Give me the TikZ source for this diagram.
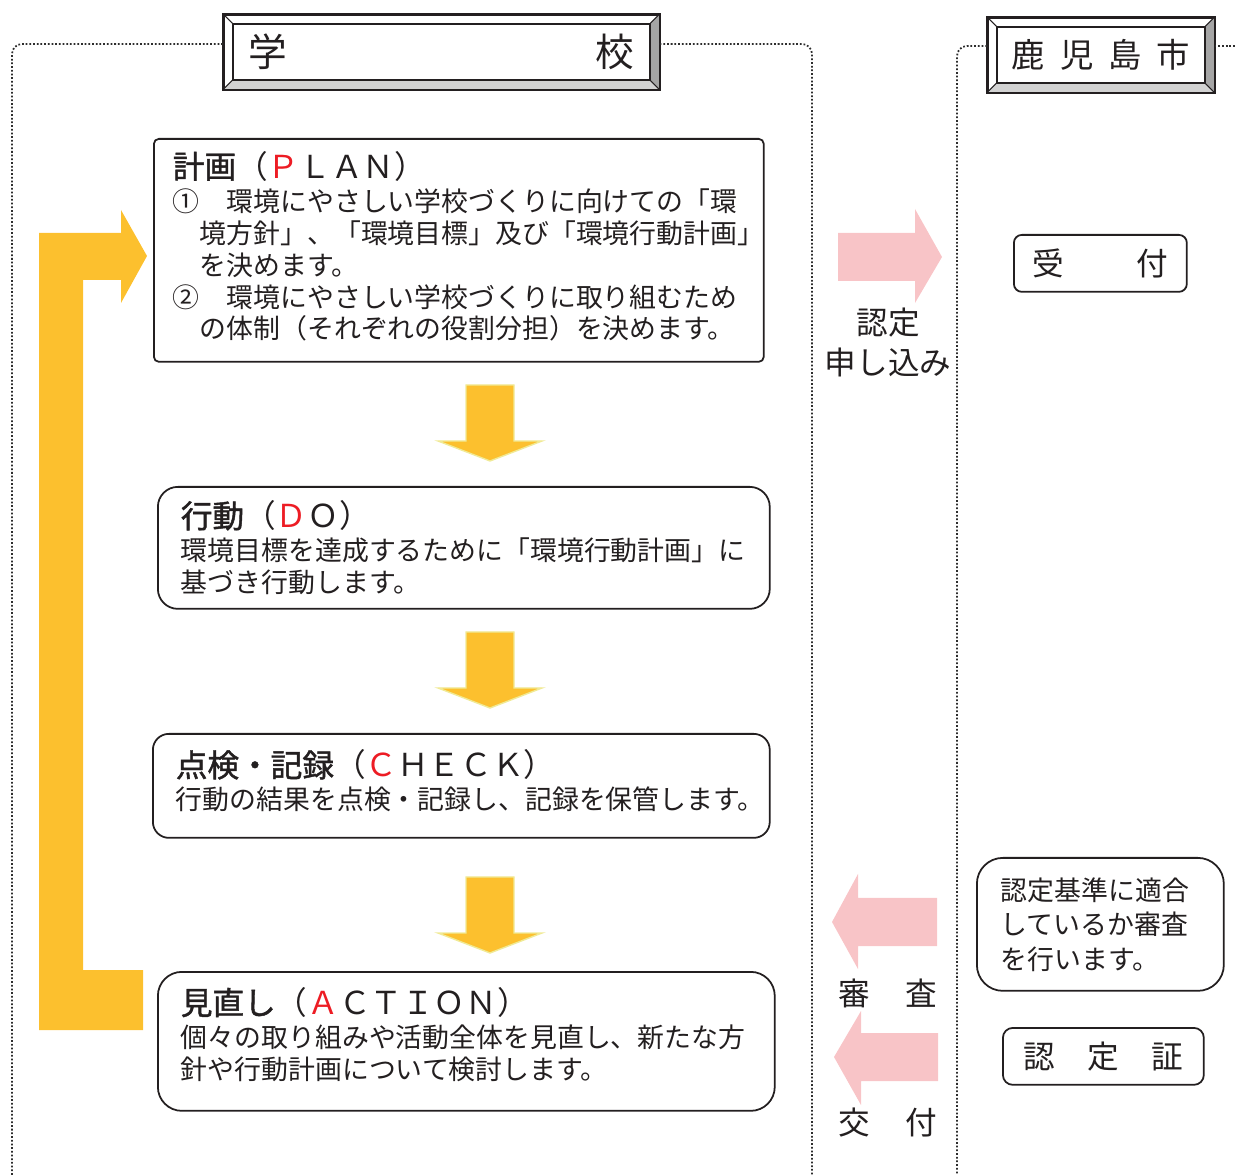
\documentclass[tikz,border=0pt]{standalone}
\usepackage{fontspec}
\setmainfont{Noto Sans CJK JP}
\newfontfamily\semibold[FakeBold=1.4]{Noto Sans CJK JP}
\usetikzlibrary{positioning,calc}
\definecolor{inkgray}{RGB}{35,31,32}
\definecolor{arrowyellow}{RGB}{252,192,46}
\definecolor{arrowedge}{RGB}{240,234,150}
\definecolor{arrowpink}{RGB}{248,196,199}
\definecolor{letterred}{RGB}{237,28,36}
\definecolor{bevdark}{RGB}{165,165,165}
\definecolor{bevlight}{RGB}{210,210,210}
\definecolor{framegray}{RGB}{45,45,45}
\newcommand{\bodysize}{\fontsize{15.3pt}{18.2pt}\selectfont}
\newcommand{\titlesize}{\fontsize{18pt}{22.8pt}\selectfont}
\newcommand{\lift}[1]{\rule[-#1]{0pt}{0pt}}
\tikzset{
  card/.style   = {rectangle, draw = inkgray, line width = 1pt, fill = white,
                   anchor = north west, align = left, text = inkgray,
                   inner ysep = 0pt, font = \bodysize},
  header/.style = {rectangle, draw = inkgray, line width = 1pt, fill = white,
                   anchor = north west, minimum height = 1.48cm, text = inkgray,
                   inner sep = 0pt},
  sidelabel/.style = {align = center, text = inkgray, inner sep = 0pt,
                   font = \titlesize},
  yarrow/.style = {fill = arrowyellow, draw = arrowedge, line width = 0.8pt},
  parrow/.style = {fill = arrowpink},
  frame/.style  = {draw = framegray, line width = 1pt,
                   dash pattern = on 1pt off 1.1pt, rounded corners = 0.2cm}
}

\begin{document}
\begin{tikzpicture}[x=0.02cm, y=-0.02cm]   % 1 unit = 1 pixel of the layout
  \useasboundingbox (0,0) rectangle (1235,1175);

  % headers
  \node[header, minimum width = 8.7cm, font = \fontsize{22pt}{26pt}\selectfont]
    (school) at (223,14) {\makebox[7.72cm][s]{学\hfill 校}};
  \node[header, minimum width = 4.52cm, font = \fontsize{19pt}{23pt}\selectfont]
    (city) at (987,17) {\makebox[3.56cm][s]{鹿\hfill 児\hfill 島\hfill 市}};

  \foreach \nm in {school,city} {
    \fill[bevdark] (\nm.north east) -- (\nm.south east)
      -- ($(\nm.south east)+(-10,-10)$) -- ($(\nm.north east)+(-10,10)$) -- cycle;
    \fill[bevlight] (\nm.south west) -- (\nm.south east)
      -- ($(\nm.south east)+(-10,-10)$) -- ($(\nm.south west)+(10,-10)$) -- cycle;
    \draw[inkgray, line width = 1pt] (\nm.north west) rectangle (\nm.south east);
    \draw[inkgray, line width = 1pt] ($(\nm.north west)+(10,10)$) rectangle ($(\nm.south east)+(-10,-10)$);
    \draw[inkgray, line width = 0.6pt]
      (\nm.north west) -- ($(\nm.north west)+(10,10)$)
      (\nm.north east) -- ($(\nm.north east)+(-10,10)$)
      (\nm.south east) -- ($(\nm.south east)+(-10,-10)$)
      (\nm.south west) -- ($(\nm.south west)+(10,-10)$);
  }

  % dotted frames
  \draw[frame] (school.west |- 0,44) -- (12,44) -- (12,1175);
  \draw[frame] (school.east |- 0,44) -- (812,44) -- (812,1175);
  \draw[frame] (city.west |- 0,46) -- (957,46) -- (957,1175);
  \draw[frame] (city.east |- 0,46) -- (1235,46);

  % PDCA boxes
  \node[card, rounded corners = 0.1cm, minimum width = 12.2cm, minimum height = 4.46cm,
        inner xsep = 0.38cm, text width = 11.44cm] (plan) at (153,138)
    {{\titlesize{\semibold 計画}（\textcolor{letterred}{Ｐ}ＬＡＮ）}\\[0.5pt]
     ①　環境にやさしい学校づくりに向けての「環\\
     \hspace*{1em}境方針」、「環境目標」及び「環境行動計画」\\
     \hspace*{1em}を決めます。\\
     ②　環境にやさしい学校づくりに取り組むため\\
     \hspace*{1em}の体制（それぞれの役割分担）を決めます。\lift{6pt}};
  \node[card, rounded corners = 0.4cm, minimum width = 12.24cm, minimum height = 2.44cm,
        inner xsep = 0.46cm, text width = 11.32cm] (do) at (157,486)
    {{\titlesize{\semibold 行動}（\textcolor{letterred}{Ｄ}Ｏ）}\\[0.5pt]
     環境目標を達成するために「環境行動計画」に\\
     基づき行動します。};
  \node[card, rounded corners = 0.32cm, minimum width = 12.34cm, minimum height = 2.08cm,
        inner xsep = 0.46cm, text width = 11.42cm] (check) at (152,733)
    {{\titlesize{\semibold 点検・記録}（\textcolor{letterred}{Ｃ}ＨＥＣＫ）}\\[0.5pt]
     行動の結果を点検・記録し、記録を保管します。\lift{7pt}};
  \node[card, rounded corners = 0.48cm, minimum width = 12.34cm, minimum height = 2.78cm,
        inner xsep = 0.46cm, text width = 11.42cm] (action) at (157,971)
    {{\titlesize{\semibold 見直し}（\textcolor{letterred}{Ａ}ＣＴＩＯＮ）}\\[0.5pt]
     個々の取り組みや活動全体を見直し、新たな方\\
     針や行動計画について検討します。\lift{9pt}};

  % down arrows between the boxes
  \foreach \y in {385,632,877} {
    \filldraw[yarrow] (466,\y) -- (514,\y) -- (514,\y+56) -- (542,\y+56)
      -- (490,\y+76) -- (438,\y+56) -- (466,\y+56) -- cycle;
  }
  % return arrow from ACTION to PLAN
  \fill[arrowyellow] (39,1030) -- (39,233) -- (121,233) -- (121,210) -- (147,256)
    -- (121,303) -- (121,280) -- (83,280) -- (83,970) -- (143,970) -- (143,1030) -- cycle;

  % city side
  \node[card, rounded corners = 0.16cm, minimum width = 3.46cm, minimum height = 1.14cm,
        inner xsep = 0pt, align = center, font = \titlesize] (reception) at (1013,234)
    {\makebox[2.72cm][s]{受\hfill 付}};
  \node[card, rounded corners = 0.52cm, minimum width = 4.94cm, minimum height = 2.66cm,
        inner xsep = 0.48cm, text width = 3.98cm,
        font = \fontsize{15.3pt}{19.6pt}\selectfont] (review) at (976,857)
    {認定基準に適合\\しているか審査\\を行います。};
  \node[card, rounded corners = 0.2cm, minimum width = 4.02cm, minimum height = 1.14cm,
        inner xsep = 0pt, align = center, font = \titlesize] (cert) at (1002,1027)
    {\makebox[3.2cm][s]{認\hfill 定\hfill 証}};

  % pink arrows with labels
  \fill[parrow] (838,233) -- (915,233) -- (915,209) -- (942,257) -- (915,303)
    -- (915,281) -- (838,281) -- cycle;
  \fill[parrow] (937,898) -- (858,898) -- (858,874) -- (832,922) -- (858,969)
    -- (858,946) -- (937,946) -- cycle;
  \fill[parrow] (938,1033) -- (861,1033) -- (861,1011) -- (834,1057) -- (861,1105)
    -- (861,1081) -- (938,1081) -- cycle;
  \node[sidelabel] (applytxt) at (888,342) {認定\\申し込み};
  \node[sidelabel] (reviewtxt) at (888,993) {\makebox[1.98cm][s]{審\hfill 査}};
  \node[sidelabel] (issuetxt) at (888,1123) {\makebox[1.98cm][s]{交\hfill 付}};
\end{tikzpicture}
\end{document}
